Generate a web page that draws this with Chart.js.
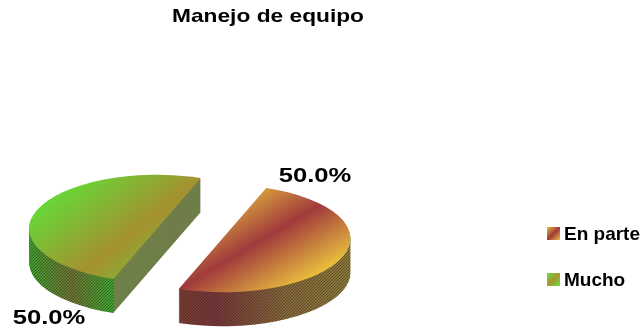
<!DOCTYPE html>
<html>
<head>
<meta charset="utf-8">
<style>
  html, body { margin: 0; background: #fff; }
  canvas { display: block; }
</style>
<script src="https://cdn.jsdelivr.net/npm/chart.js@4"></script>
</head>
<body>
<canvas id="chart" width="644" height="329"></canvas>
<script>
const categories = ["En parte", "Mucho"];
const shares = [50, 50];

const FONT = "'Liberation Sans', Arial, sans-serif";
const SQUASH = 53.7 / 128;
const DEPTH = 34;
const PIE_X = 189.75;
const PIE_Y = 233.5;
const ROTATION = 20;
const EXPLODE = 34.8;

const canvas = document.getElementById("chart");
const ctx = canvas.getContext("2d");

// the library draws a round pie, this flattens it and moves it to its place
function applySquash(c, chart) {
  const area = chart.chartArea;
  c.translate(PIE_X - (area.left + area.right) / 2, PIE_Y);
  c.scale(1, SQUASH);
  c.translate(0, -(area.top + area.bottom) / 2);
}

// how far a slice moves out of the pie, along its middle angle
function explodeOf(i) {
  const total = shares.reduce((a, b) => a + b, 0);
  const before = shares.slice(0, i).reduce((a, b) => a + b, 0);
  const mid = ((before + shares[i] / 2) / total) * 2 * Math.PI + (ROTATION * Math.PI) / 180 - Math.PI / 2;
  return [Math.cos(mid) * EXPLODE, Math.sin(mid) * EXPLODE];
}

// three-stop gradient, given in screen space, for use inside the flattened pie
function topGradient(chart, i) {
  const s = topColors[i];
  const area = chart.chartArea;
  const cy = (area.top + area.bottom) / 2;
  const dx = PIE_X - (area.left + area.right) / 2;
  const shift = explodeOf(i);
  const m = [s.mid[0] - dx - shift[0], (s.mid[1] - PIE_Y) / SQUASH + cy - shift[1]];
  const iso = [s.dir[0], s.dir[1] / SQUASH];
  const len = Math.hypot(iso[0], iso[1]);
  const n = [-iso[1] / len, iso[0] / len];
  const g = ctx.createLinearGradient(m[0] + n[0] * s.a, m[1] + n[1] * s.a, m[0] + n[0] * s.b, m[1] + n[1] * s.b);
  g.addColorStop(0, s.stops[0]);
  g.addColorStop(0.5, s.stops[1]);
  g.addColorStop(1, s.stops[2]);
  return g;
}

function hatch(color) {
  const tile = document.createElement("canvas");
  tile.width = tile.height = 3;
  const t = tile.getContext("2d");
  t.fillStyle = color;
  t.fillRect(0, 2, 1, 1);
  t.fillRect(1, 1, 1, 1);
  t.fillRect(2, 0, 1, 1);
  return ctx.createPattern(tile, "repeat");
}

function wallGradient(stops) {
  const g = ctx.createLinearGradient(0, 0, 644, 0);
  stops.forEach(([x, col]) => g.addColorStop(x / 644, col));
  return g;
}

const wallColors = [
  [[179, "#7c3d32"], [215, "#77353a"], [285, "#86683a"], [350, "#8a7a3a"]],
  [[30, "#3f9e2e"], [72, "#6d7434"], [112, "#3da42e"], [115, "#6f8048"], [200, "#6f7d48"]],
];
const hatchRight = [644, 114]; // the flat cut face of the back slice has no stripes

const topColors = [
  { mid: [180, 288], dir: [140, -83], a: -92, b: 92, stops: ["#e9bd3e", "#a03a3c", "#e9bd3e"] },
  { mid: [200, 180], dir: [90, -70], a: -125, b: 125, stops: ["#5fe83a", "#a89430", "#5fe83a"] },
];
const topHatch = ["rgba(0,0,0,0)", "rgba(90,70,30,0.14)"];

function wallPath(c, arc, i) {
  const shift = explodeOf(i);
  const x = arc.x + shift[0];
  const y = arc.y + shift[1];
  c.beginPath();
  for (let d = DEPTH; d >= 1; d--) {
    c.moveTo(x, y + d / SQUASH);
    c.arc(x, y + d / SQUASH, arc.outerRadius, arc.startAngle, arc.endAngle);
    c.closePath();
  }
}

const flatPie = {
  id: "flatPie",
  beforeDraw(chart) {
    // the title glyphs are wider than the font, stretch them about the title centre
    const t = chart.titleBlock;
    if (t.wide) return;
    t.wide = true;
    const cx = 268;
    t.left = cx - 200;
    t.right = cx + 200;
    const plain = t.draw.bind(t);
    t.draw = () => {
      t.ctx.save();
      t.ctx.translate(cx, 0);
      t.ctx.scale(191 / 159.6, 1);
      t.ctx.translate(-cx, 0);
      plain();
      t.ctx.restore();
    };
  },
  beforeDatasetDraw(chart) {
    const c = chart.ctx;
    const arcs = chart.getDatasetMeta(0).data;
    // back slice first, then the front one
    [1, 0].forEach((i) => {
      c.save();
      applySquash(c, chart);
      wallPath(c, arcs[i], i);
      c.restore();
      c.fillStyle = wallGradient(wallColors[i]);
      c.fill();
      c.save();
      c.fillStyle = hatch("rgba(40,30,20,0.45)");
      c.beginPath();
      c.rect(0, 0, hatchRight[i], 329);
      c.clip();
      c.save();
      applySquash(c, chart);
      wallPath(c, arcs[i], i);
      c.restore();
      c.fill();
      c.restore();

      const shift = explodeOf(i);
      c.save();
      applySquash(c, chart);
      c.translate(shift[0], shift[1]);
      arcs[i].draw(c);
      c.beginPath();
      c.moveTo(arcs[i].x, arcs[i].y);
      c.arc(arcs[i].x, arcs[i].y, arcs[i].outerRadius, arcs[i].startAngle, arcs[i].endAngle);
      c.closePath();
      c.restore();
      c.fillStyle = hatch(topHatch[i]);
      c.fill();
    });
    return false;
  },
  afterDatasetsDraw(chart) {
    const c = chart.ctx;
    const total = shares.reduce((a, b) => a + b, 0);
    const labelAt = [[315, 176], [49, 318]];
    shares.forEach((v, i) => {
      c.save();
      c.translate(labelAt[i][0], labelAt[i][1]);
      c.scale(1.28, 1);
      c.font = "bold 20px " + FONT;
      c.fillStyle = "#000";
      c.textBaseline = "middle";
      c.textAlign = "center";
      c.fillText((v / total * 100).toFixed(1) + "%", 0, 0);
      c.restore();
    });

    // legend
    categories.forEach((name, i) => {
      const y = 227 + i * 46;
      const s = topColors[i].stops;
      const g = c.createLinearGradient(547, y, 560, y + 13);
      g.addColorStop(0, s[0]);
      g.addColorStop(0.5, s[1]);
      g.addColorStop(1, s[2]);
      c.fillStyle = g;
      c.fillRect(547, y, 13, 13);
      c.fillStyle = "#000";
      c.font = "bold 19px " + FONT;
      c.textBaseline = "alphabetic";
      c.textAlign = "left";
      c.fillText(name, 564, y + 13);
    });
  },
};

new Chart(ctx, {
  type: "pie",
  data: {
    labels: categories,
    datasets: [{
      data: shares,
      backgroundColor: (s) => (s.chart.chartArea ? topGradient(s.chart, s.dataIndex) : "#999"),
      borderWidth: 0,
    }],
  },
  plugins: [flatPie],
  options: {
    responsive: false,
    animation: false,
    rotation: ROTATION,
    radius: 128,
    plugins: {
      tooltip: { enabled: false },
      legend: { display: false },
      title: {
        display: true,
        text: "Manejo de equipo",
        color: "#000",
        font: { family: FONT, size: 19, weight: "bold" },
        padding: { top: 5, bottom: 6 },
      },
    },
  },
});
</script>
</body>
</html>
